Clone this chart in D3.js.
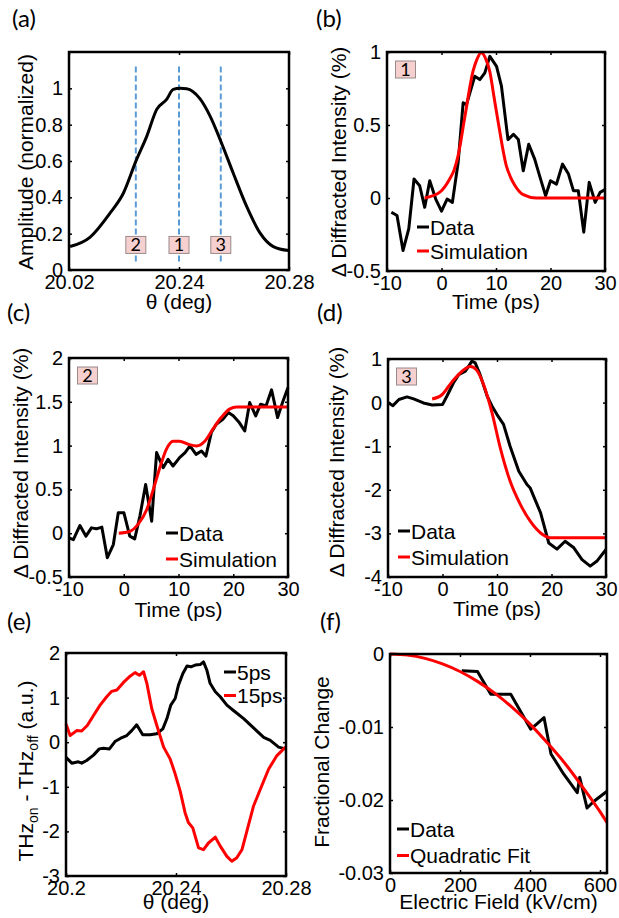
<!DOCTYPE html>
<html>
<head>
<meta charset="utf-8">
<script src="https://cdn.jsdelivr.net/npm/d3@7"></script>
<style>
  body { margin: 0; background: #fff; }
  svg { display: block; }
</style>
</head>
<body>
<svg id="fig"></svg>
<script>
// (a) rocking curve
var aTheta = [20.2004,20.2076,20.2149,20.2198,20.2243,20.2283,20.2319,20.2355,20.2379,20.2404,20.2428,20.2476,20.2513,20.2552,20.2597,20.2646,20.2695,20.2743,20.2799];
var aAmp = [0.129,0.18,0.313,0.424,0.598,0.737,0.884,0.939,0.994,1.0,0.998,0.943,0.847,0.709,0.534,0.35,0.203,0.129,0.107];
var aMarkTheta = [20.2243, 20.24, 20.2552];
var aMarkLabels = ["2", "1", "3"];
var aXTicks = [20.2, 20.24, 20.28];
var aXTickLabels = ["20.02", "20.24", "20.28"];
var aYTicks = [0, 0.2, 0.4, 0.6, 0.8, 1];

// (b) position 1
var bT = [-9.2,-8.16,-7.06,-6.0,-5.04,-4.0,-3.08,-2.16,-1.06,0.0,1.03,2.0,3.05,3.97,4.58,6.1,7.03,7.95,8.87,10.1,11.0,12.2,13.2,14.1,15.0,16.0,17.1,18.0,19.1,20.0,21.1,22.2,23.3,24.2,25.1,26.1,27.1,28.2,29.1,30.0];
var bData = [-0.098,-0.12,-0.36,-0.21,0.13,0.084,-0.064,0.118,-0.007,-0.09,-0.007,-0.03,0.243,0.652,0.64,0.834,0.811,0.857,0.97,0.902,0.766,0.4,0.436,0.4,0.186,0.368,0.266,0.152,0.016,0.118,0.095,0.232,0.164,0.05,0.05,-0.234,0.107,-0.03,0.039,0.057];
var bSimT = [-3.1,-0.3,1.5,2.3,3.05,4.3,5.8,6.5,7.3,8.1,8.9,9.6,10.4,11.9,12.7,13.5,15,17.4,30];
var bSim = [0,0.04,0.13,0.19,0.29,0.56,0.87,0.95,0.995,0.955,0.86,0.7,0.52,0.22,0.14,0.084,0.023,0,0];

// (c) position 2
var cT = [-10,-9.2,-8.0,-6.9,-5.9,-5.0,-4.0,-3.0,-1.9,-1.0,0.03,1.1,2.0,2.95,4.0,5.1,6.0,7.2,8.1,9.0,10.2,11.2,12.1,13.2,14.2,15.0,16.0,16.9,18.1,19.1,20.0,21.1,22.1,23.0,24.1,25.0,26.0,27.0,28.1,29.0,30.0];
var cData = [-0.053,-0.073,0.088,-0.034,0.061,0.05,0.069,-0.28,-0.13,0.233,0.233,-0.034,-0.065,0.195,0.557,0.137,0.92,0.748,0.843,0.767,0.863,0.92,0.996,0.9,0.939,0.88,1.149,1.244,1.3,1.378,1.34,1.263,1.168,1.492,1.34,1.473,1.454,1.637,1.32,1.492,1.664];
var cSimT = [-0.9,1.1,2.6,4.2,5.4,6.6,7.8,9.0,10.2,11.8,13.3,14.8,16.3,17.8,19.4,20.6,30];
var cSim = [0,0.02,0.1,0.27,0.5,0.75,0.96,1.05,1.05,1.015,0.996,1.05,1.19,1.32,1.42,1.44,1.44];

// (d) position 3
var dT = [-10,-9.1,-8.0,-6.5,-5.3,-3.5,-1.9,0.0,0.8,2.0,2.97,4.2,5.4,6.0,6.9,8.2,9.1,10.0,11.2,12.4,14.0,15.5,16.1,18.0,19.5,21.0,22.5,24.1,25.6,27.1,28.3,30];
var dData = [0,-0.07,0.07,0.13,0.084,-0.008,-0.054,-0.046,0.145,0.45,0.64,0.72,0.95,0.91,0.64,0.145,-0.084,-0.275,-0.5,-1.0,-1.575,-1.88,-1.96,-2.53,-3.22,-3.36,-3.18,-3.33,-3.6,-3.75,-3.64,-3.37];
var dSimT = [-1.9,-0.1,1.7,3.6,5.1,6.3,7.55,9.1,10.6,12.4,14.3,16.1,18.0,19.8,30];
var dSim = [0.084,0.18,0.47,0.72,0.83,0.74,0.41,-0.24,-1.04,-1.8,-2.34,-2.72,-2.99,-3.1,-3.1];

var timeTicks = [-10, 0, 10, 20, 30];

// (e) THz on - off vs angle
var eTheta5 = [20.2,20.2021,20.2045,20.2057,20.2075,20.21,20.2121,20.2136,20.2158,20.2178,20.2199,20.2221,20.2239,20.2257,20.2279,20.2306,20.233,20.2352,20.2367,20.2381,20.2397,20.2409,20.2425,20.244,20.2454,20.247,20.2488,20.25,20.2512,20.2524,20.2543,20.2561,20.2585,20.2609,20.2646,20.2682,20.2719,20.2743,20.2773,20.2798];
var e5ps = [-0.34,-0.47,-0.44,-0.47,-0.41,-0.29,-0.15,-0.135,-0.15,0.015,0.09,0.15,0.26,0.39,0.165,0.165,0.19,0.3,0.53,0.83,0.98,1.28,1.54,1.71,1.69,1.73,1.74,1.8,1.62,1.32,1.13,1.02,0.83,0.71,0.53,0.32,0.11,0.04,-0.11,-0.15];
var eTheta15 = [20.2,20.2015,20.2039,20.2057,20.2078,20.21,20.2124,20.2148,20.2166,20.2185,20.2209,20.2233,20.2251,20.2267,20.2282,20.2294,20.2312,20.233,20.2355,20.2379,20.2397,20.2415,20.2433,20.2445,20.2461,20.2482,20.25,20.2518,20.2543,20.2561,20.2585,20.2603,20.2621,20.264,20.2658,20.2682,20.2707,20.2737,20.2767,20.2798];
var e15ps = [0.41,0.15,0.26,0.25,0.38,0.6,0.83,1.02,1.14,1.17,1.34,1.48,1.56,1.5,1.58,1.32,0.75,0.38,-0.11,-0.38,-0.71,-1.09,-1.58,-1.8,-1.92,-2.37,-2.41,-2.26,-2.13,-2.33,-2.56,-2.67,-2.59,-2.41,-1.99,-1.43,-1.05,-0.6,-0.3,-0.11];
var eXTicks = [20.2, 20.24, 20.28];

// (f) fractional change vs field
var fField = [205,250,288,345,383,402,419,440,460,497,535,542,563,582,620];
var fData = [-0.0023,-0.0024,-0.0055,-0.0055,-0.0087,-0.0103,-0.0096,-0.0087,-0.0137,-0.0165,-0.019,-0.0169,-0.0211,-0.0202,-0.0188];
var fFitField = [0,50,100,150,200,250,300,350,400,450,500,550,600,620];
var fFit = [0,-0.00015,-0.0006,-0.00135,-0.0024,-0.00375,-0.0054,-0.00735,-0.0096,-0.0122,-0.015,-0.0182,-0.0216,-0.0231];

var W = 619, H = 918;
var numFont = "'Liberation Sans', Arial, Helvetica, sans-serif";
var tagFont = "Lato, 'Open Sans', sans-serif";
var RED = "#ff0000";

var svg = d3.select("#fig").attr("width", W).attr("height", H);

function zip(xs, ys) {
  return xs.map(function(v, i) { return [v, ys[i]]; });
}

function drawPanel(cfg) {
  var g = svg.append("g");
  var x = d3.scaleLinear().domain(cfg.xDomain).range([cfg.left, cfg.right]);
  var y = d3.scaleLinear().domain(cfg.yDomain).range([cfg.bottom, cfg.top]);
  var xFmt = cfg.xTickLabels ? function(d, i) { return cfg.xTickLabels[i]; } : function(d) { return String(d); };

  // ticks on all four sides, pointing in
  var bx = g.append("g").attr("transform", "translate(0," + cfg.bottom + ")")
    .call(d3.axisBottom(x).tickValues(cfg.xTicks).tickSize(-3).tickPadding(5).tickFormat(xFmt));
  var tx = g.append("g").attr("transform", "translate(0," + cfg.top + ")")
    .call(d3.axisTop(x).tickValues(cfg.xTicks).tickSize(-3).tickFormat(""));
  var ly = g.append("g").attr("transform", "translate(" + cfg.left + ",0)")
    .call(d3.axisLeft(y).tickValues(cfg.yTicks).tickSize(-3).tickPadding(6).tickFormat(function(d) { return String(d); }));
  var ry = g.append("g").attr("transform", "translate(" + cfg.right + ",0)")
    .call(d3.axisRight(y).tickValues(cfg.yTicks).tickSize(-3).tickFormat(""));
  [bx, tx, ly, ry].forEach(function(a) {
    a.select(".domain").remove();
    a.selectAll(".tick line").attr("stroke", "#000").attr("stroke-width", 1.5);
    a.selectAll("text").attr("font-family", numFont).attr("font-size", 20).attr("fill", "#000");
  });

  if (cfg.extra) cfg.extra(g, x, y);

  cfg.series.forEach(function(s) {
    var line = d3.line()
      .x(function(d) { return x(d[0]); })
      .y(function(d) { return y(d[1]); })
      .curve(s.smooth ? d3.curveMonotoneX : d3.curveLinear);
    g.append("path")
      .attr("d", line(zip(s.xs, s.ys)))
      .attr("fill", "none")
      .attr("stroke", s.color)
      .attr("stroke-width", 3)
      .attr("stroke-linejoin", "round");
  });

  g.append("rect")
    .attr("x", cfg.left).attr("y", cfg.top)
    .attr("width", cfg.right - cfg.left).attr("height", cfg.bottom - cfg.top)
    .attr("fill", "none").attr("stroke", "#000").attr("stroke-width", 2.5);

  // axis labels
  g.append("text")
    .attr("x", (cfg.left + cfg.right) / 2).attr("y", cfg.xLabelY)
    .attr("text-anchor", "middle")
    .attr("font-family", numFont).attr("font-size", 21)
    .text(cfg.xLabel);
  var yl = g.append("text")
    .attr("transform", "translate(" + cfg.yLabelX + "," + cfg.yLabelCY + ") rotate(-90)")
    .attr("text-anchor", "middle")
    .attr("font-family", numFont).attr("font-size", 21);
  if (typeof cfg.yLabel === "function") cfg.yLabel(yl); else yl.text(cfg.yLabel);

  // panel letter
  g.append("text")
    .attr("x", cfg.letterX).attr("y", cfg.letterY)
    .attr("font-family", tagFont).attr("font-size", 24)
    .text(cfg.letter);

  // legend
  if (cfg.legend) {
    var L = cfg.legend;
    L.items.forEach(function(it, i) {
      var yy = L.y + i * L.step;
      g.append("line")
        .attr("x1", L.x).attr("x2", L.x + 12).attr("y1", yy).attr("y2", yy)
        .attr("stroke", it.color).attr("stroke-width", 3);
      g.append("text")
        .attr("x", L.x + 13).attr("y", yy + 7.5)
        .attr("font-family", numFont).attr("font-size", 21)
        .text(it.label);
    });
  }

  // numbered tag in corner
  if (cfg.tag) {
    tagBox(g, cfg.left + 9 + 9.5, cfg.top + 9 + 8.5, cfg.tag);
  }
  return { x: x, y: y };
}

function tagBox(g, cx, cy, label) {
  g.append("rect")
    .attr("x", cx - 10).attr("y", cy - 8.5).attr("width", 20).attr("height", 17)
    .attr("fill", "#f6cfcf").attr("stroke", "#9a8a8a").attr("stroke-width", 1);
  g.append("text")
    .attr("x", cx).attr("y", cy + 6.5)
    .attr("text-anchor", "middle")
    .attr("font-family", tagFont).attr("font-size", 18)
    .text(label);
}

// (a)
drawPanel({
  left: 69, right: 289, top: 52, bottom: 270,
  xDomain: [20.2, 20.28], yDomain: [0, 1.2],
  xTicks: aXTicks, xTickLabels: aXTickLabels, yTicks: aYTicks,
  xLabel: "\u03b8 (deg)", xLabelY: 309,
  yLabel: "Amplitude (normalized)", yLabelX: 33, yLabelCY: 162,
  letter: "(a)", letterX: 12, letterY: 27,
  series: [{ xs: aTheta, ys: aAmp, color: "#000", smooth: true }],
  extra: function(g, x, y) {
    aMarkTheta.forEach(function(t, i) {
      g.append("line")
        .attr("x1", x(t)).attr("x2", x(t)).attr("y1", y(1.12)).attr("y2", y(0.03))
        .attr("stroke", "#5b9bd5").attr("stroke-width", 2).attr("stroke-dasharray", "6,3");
    });
  }
});
// tags on top of the curve in (a)
(function() {
  var x = d3.scaleLinear().domain([20.2, 20.28]).range([69, 289]);
  var y = d3.scaleLinear().domain([0, 1.2]).range([270, 52]);
  var g = svg.append("g");
  aMarkTheta.forEach(function(t, i) { tagBox(g, x(t), y(0.138), aMarkLabels[i]); });
})();

// (b)
drawPanel({
  left: 387, right: 605, top: 52, bottom: 271,
  xDomain: [-10, 30], yDomain: [-0.5, 1],
  xTicks: timeTicks, yTicks: [-0.5, 0, 0.5, 1],
  xLabel: "Time (ps)", xLabelY: 309,
  yLabel: "\u0394 Diffracted Intensity (%)", yLabelX: 346, yLabelCY: 162,
  letter: "(b)", letterX: 316, letterY: 27,
  series: [
    { xs: bT, ys: bData, color: "#000" },
    { xs: bSimT, ys: bSim, color: RED, smooth: true }
  ],
  legend: { x: 417, y: 227, step: 24, items: [{ label: "Data", color: "#000" }, { label: "Simulation", color: RED }] },
  tag: "1"
});

// (c)
drawPanel({
  left: 69, right: 288, top: 358, bottom: 577,
  xDomain: [-10, 30], yDomain: [-0.5, 2],
  xTicks: timeTicks, yTicks: [-0.5, 0, 0.5, 1, 1.5, 2],
  xLabel: "Time (ps)", xLabelY: 617,
  yLabel: "\u0394 Diffracted Intensity (%)", yLabelX: 28, yLabelCY: 463,
  letter: "(c)", letterX: 7, letterY: 321,
  series: [
    { xs: cT, ys: cData, color: "#000" },
    { xs: cSimT, ys: cSim, color: RED, smooth: true }
  ],
  legend: { x: 166, y: 533, step: 26, items: [{ label: "Data", color: "#000" }, { label: "Simulation", color: RED }] },
  tag: "2"
});

// (d)
drawPanel({
  left: 388, right: 606, top: 359, bottom: 577,
  xDomain: [-10, 30], yDomain: [-4, 1],
  xTicks: timeTicks, yTicks: [-4, -3, -2, -1, 0, 1],
  xLabel: "Time (ps)", xLabelY: 616,
  yLabel: "\u0394 Diffracted Intensity (%)", yLabelX: 344, yLabelCY: 462,
  letter: "(d)", letterX: 317, letterY: 321,
  series: [
    { xs: dT, ys: dData, color: "#000" },
    { xs: dSimT, ys: dSim, color: RED, smooth: true }
  ],
  legend: { x: 398, y: 531, step: 26, items: [{ label: "Data", color: "#000" }, { label: "Simulation", color: RED }] },
  tag: "3"
});

// (e)
drawPanel({
  left: 66, right: 286, top: 653, bottom: 876,
  xDomain: [20.2, 20.28], yDomain: [-3, 2],
  xTicks: eXTicks, yTicks: [-3, -2, -1, 0, 1, 2],
  xLabel: "\u03b8 (deg)", xLabelY: 909,
  yLabel: function(t) {
    t.append("tspan").text("THz");
    t.append("tspan").attr("font-size", 14).attr("dy", 5).text("on");
    t.append("tspan").attr("dy", -5).text(" - THz");
    t.append("tspan").attr("font-size", 14).attr("dy", 5).text("off");
    t.append("tspan").attr("dy", -5).text(" (a.u.)");
  },
  yLabelX: 33, yLabelCY: 771,
  letter: "(e)", letterX: 7, letterY: 630,
  series: [
    { xs: eTheta5, ys: e5ps, color: "#000" },
    { xs: eTheta15, ys: e15ps, color: RED }
  ],
  legend: { x: 224, y: 672, step: 23.5, items: [{ label: "5ps", color: "#000" }, { label: "15ps", color: RED }] }
});

// (f)
drawPanel({
  left: 390, right: 607, top: 654, bottom: 873,
  xDomain: [0, 620], yDomain: [-0.03, 0],
  xTicks: [0, 200, 400, 600], yTicks: [-0.03, -0.02, -0.01, 0],
  xLabel: "Electric Field (kV/cm)", xLabelY: 909,
  yLabel: "Fractional Change", yLabelX: 329, yLabelCY: 762,
  letter: "(f)", letterX: 320, letterY: 630,
  series: [
    { xs: fField, ys: fData, color: "#000" },
    { xs: fFitField, ys: fFit, color: RED, smooth: true }
  ],
  legend: { x: 397, y: 829, step: 26.5, items: [{ label: "Data", color: "#000" }, { label: "Quadratic Fit", color: RED }] }
});
</script>
</body>
</html>
